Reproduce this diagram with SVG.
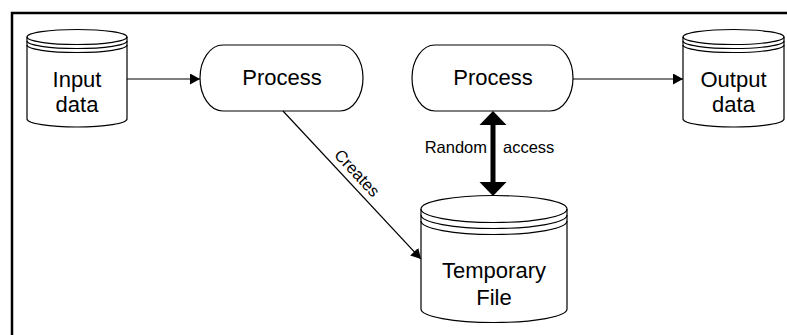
<svg xmlns="http://www.w3.org/2000/svg" width="787" height="335" viewBox="0 0 787 335">
<style>
.sh{fill:#fff;stroke:#000;stroke-width:1.2}
.ln{fill:none;stroke:#000;stroke-width:1.2}
.t{font-family:"Liberation Sans",Arial,sans-serif;font-size:22px;fill:#000;text-anchor:middle}
.s{font-family:"Liberation Sans",Arial,sans-serif;font-size:16.5px;fill:#000}
</style>
<defs>
<marker id="ah" markerWidth="10" markerHeight="11" refX="10" refY="5.5" orient="auto" markerUnits="userSpaceOnUse">
<path d="M0,0 L10,5.5 L0,11 Z" fill="#000"/>
</marker>
</defs>
<rect width="787" height="335" fill="#fff"/>
<path d="M12,335 V13 H787" fill="none" stroke="#000" stroke-width="2.5"/>

<g id="input-data">
<path class="sh" d="M27,37 A50,7.5 0 0 1 127,37 V119 A50,8 0 0 1 27,119 Z"/>
<path class="ln" d="M27,37 A50,7.5 0 0 0 127,37 M27,41 A50,7.5 0 0 0 127,41 M27,45 A50,7.5 0 0 0 127,45"/>
<text class="t" x="77" y="87">Input</text>
<text class="t" x="77" y="112">data</text>
</g>

<g id="process-1">
<path class="sh" d="M223,45 H340 A23,33 0 0 1 340,111 H223 A23,33 0 0 1 223,45 Z"/>
<text class="t" x="282" y="85">Process</text>
</g>

<g id="process-2">
<path class="sh" d="M435,45 H550 A23,33 0 0 1 550,111 H435 A23,33 0 0 1 435,45 Z"/>
<text class="t" x="493" y="85">Process</text>
</g>

<g id="output-data">
<path class="sh" d="M683,37 A50.5,7.5 0 0 1 784,37 V119 A50.5,8 0 0 1 683,119 Z"/>
<path class="ln" d="M683,37 A50.5,7.5 0 0 0 784,37 M683,41 A50.5,7.5 0 0 0 784,41 M683,45 A50.5,7.5 0 0 0 784,45"/>
<text class="t" x="733.5" y="87">Output</text>
<text class="t" x="733.5" y="112">data</text>
</g>

<g id="temporary-file">
<path class="sh" d="M421,209 A73,13.5 0 0 1 567,209 V309 A73,13.5 0 0 1 421,309 Z"/>
<path class="ln" d="M421,209 A73,13.5 0 0 0 567,209 M421,215 A73,13.5 0 0 0 567,215 M421,221 A73,13.5 0 0 0 567,221"/>
<text class="t" x="494" y="278">Temporary</text>
<text class="t" x="494" y="305">File</text>
</g>

<g id="connectors">
<line class="ln" x1="127" y1="79" x2="200" y2="79" marker-end="url(#ah)"/>
<line class="ln" x1="573" y1="79" x2="683" y2="79" marker-end="url(#ah)"/>
<line class="ln" x1="283" y1="111" x2="421" y2="259" marker-end="url(#ah)"/>
<text class="s" text-anchor="middle" transform="translate(353,177) rotate(47)">Creates</text>
<line x1="493" y1="123" x2="493" y2="184" stroke="#000" stroke-width="5"/>
<path d="M493,111 L506.5,125 L479.5,125 Z" fill="#000"/>
<path d="M493,196 L506.5,182 L479.5,182 Z" fill="#000"/>
<text class="s" x="487" y="153" text-anchor="end">Random</text>
<text class="s" x="503" y="153">access</text>
</g>
</svg>
